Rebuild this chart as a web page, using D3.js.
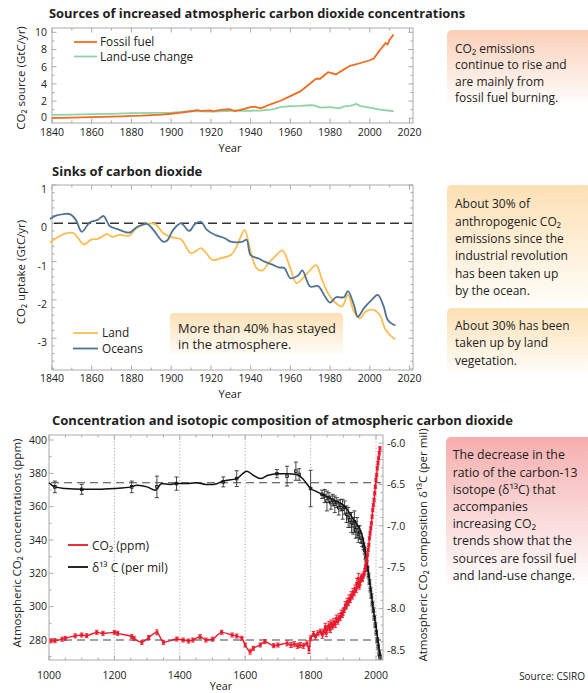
<!DOCTYPE html>
<html><head><meta charset="utf-8">
<script src="https://cdn.jsdelivr.net/npm/d3@7"></script>
<style>
body{margin:0;background:#fff}
svg{display:block}
text{font-family:'Open Sans',sans-serif;fill:#222}
</style>
</head><body>
<svg id="c" width="588" height="693"></svg>
<script>
// ---------- DATA ----------
// Panel 1: sources (GtC/yr)
const fossilYears = [1840,1845,1850,1855,1860,1865,1870,1875,1880,1885,1890,1895,1900,1905,1910,1913,1915,1920,1921,1925,1929,1930,1932,1935,1940,1942,1945,1946,1950,1955,1960,1965,1970,1973,1975,1979,1980,1983,1985,1990,1992,1995,2000,2002,2005,2008,2009,2010,2012];
const fossilVals  = [0.05,0.06,0.08,0.1,0.13,0.16,0.2,0.23,0.28,0.3,0.36,0.43,0.53,0.66,0.82,0.95,0.86,0.93,0.80,0.98,1.05,1.0,0.85,0.98,1.3,1.36,1.16,1.24,1.63,2.04,2.58,3.13,4.05,4.62,4.6,5.36,5.3,5.1,5.4,6.1,6.2,6.4,6.75,6.95,7.9,8.75,8.6,9.15,9.75];
const landUseYears = [1840,1850,1860,1870,1880,1890,1900,1905,1910,1915,1920,1925,1930,1935,1940,1945,1950,1952,1955,1960,1965,1970,1972,1975,1980,1985,1987,1990,1992,1993,1995,2000,2005,2010,2012];
const landUseVals  = [0.4,0.42,0.48,0.52,0.6,0.62,0.65,0.75,0.85,0.8,0.78,0.82,0.88,0.9,0.88,0.9,1.0,1.1,1.3,1.42,1.45,1.52,1.5,1.25,1.3,1.15,1.4,1.45,1.55,1.7,1.45,1.25,1.0,0.88,0.82];

// Panel 2: sinks (GtC/yr)
const oceanYears = [1839,1842,1846,1849,1852,1855,1859,1863,1866,1869,1873,1879,1883,1888,1891,1896,1898,1901,1905,1909,1912,1915,1918,1922,1927,1930,1933,1936,1938,1940,1944,1947,1951,1954,1957,1960,1964,1966,1970,1974,1977,1980,1983,1987,1989,1992,1994,1997,2001,2004,2007,2009,2012,2013];
const oceanVals  = [0.11,0.2,0.24,0.24,0.09,-0.22,0.02,0.09,0.19,-0.07,-0.15,-0.24,-0.09,-0.02,-0.17,-0.48,-0.45,-0.17,0,-0.2,-0.02,0.04,-0.17,-0.30,-0.39,-0.48,-0.5,-0.48,-0.43,-0.83,-0.92,-1.0,-1.08,-1.15,-1.17,-1.43,-1.36,-1.23,-1.65,-1.64,-1.87,-2.07,-1.93,-1.93,-1.77,-2.13,-2.44,-2.22,-2.0,-1.87,-2.17,-2.52,-2.65,-2.66];
const landYears = [1839,1842,1847,1851,1856,1860,1863,1868,1870,1874,1879,1882,1887,1892,1896,1900,1905,1910,1915,1917,1921,1925,1930,1933,1935,1937,1940,1943,1946,1949,1953,1956,1960,1963,1966,1970,1973,1976,1979,1982,1986,1989,1992,1995,1998,2002,2005,2008,2012,2013];
const landVals  = [-0.5,-0.39,-0.26,-0.26,-0.55,-0.42,-0.41,-0.28,-0.35,-0.3,-0.32,-0.15,-0.02,-0.02,-0.26,-0.36,-0.42,-0.78,-0.65,-0.74,-0.96,-0.91,-0.83,-0.6,-0.35,-0.17,-0.74,-1.17,-1.23,-1.04,-0.83,-0.71,-1.17,-1.56,-1.45,-1.22,-1.09,-1.48,-1.83,-2.04,-2.17,-1.87,-2.30,-2.48,-2.30,-2.26,-2.39,-2.78,-3.0,-3.02];

// Panel 3: CO2 concentration (ppm) and d13C (per mil)
const co2Years = [1006,1018,1040,1050,1080,1100,1115,1146,1165,1200,1210,1253,1260,1284,1305,1330,1350,1391,1410,1427,1440,1462,1480,1500,1528,1560,1574,1590,1600,1615,1625,1646,1660,1687,1700,1728,1740,1750,1760,1768,1778,1789,1795,1800,1809,1815,1822,1830,1836,1840,1845,1848,1852,1856,1860,1863,1867,1871,1875,1879,1883,1887,1890,1894,1897,1900,1903,1906,1909,1912,1915,1918,1921,1924,1927,1930,1933,1936,1939,1941,1944,1946,1949,1952,1955,1958,1960,1962,1964,1966,1968,1970,1972,1974,1976,1978,1980,1982,1984,1986,1988,1990,1992,1994,1996,1998,2000,2002,2004,2006,2008,2010,2012];
const co2Vals  = [279.5,279.6,280.5,281,282.5,283,282.6,284.6,284,284.6,284,282,281,278.6,281.5,284.6,278.6,280.6,280,279.4,280,282,280,280.5,284.6,283,282.4,281,277,273,275,277,279,276.6,277,278,277,277.5,276.5,277,276.5,278,274,281,283.6,282,284,285,283,285,288,284,287,289,286,290,288,291,289,293,291,294,293,296,295,297,298,301,300,303,302,305,304,307,306,309,308,311,310,314,313,317,312,315,318,316,318,319,320,322,324,326,328,331,334,337,341,344,347,350,354,358,361,364,368,372,376,379,383,386,389,392,395];
const co2Err   = [1.2,1.2,1.2,1.2,1.2,1.2,1.2,1.2,1.2,1.2,1.2,1.2,1.2,1.2,1.2,1.5,1.2,1.2,1.2,1.2,1.2,1.2,1.2,1.2,1.2,1.2,1.2,1.2,1.2,1.5,1.2,1.2,1.2,1.2,1.2,1.5,1.5,1.5,1.5,1.5,1.5,1.5,2,1.5,1.5,1.5,1.5,1.5,2,1.5,2,2,1.5,2,1.5,2,1.5,2,1.5,2,1.5,2,1.5,2,1.5,2,1.5,2,1.5,2,1.5,2,1.5,2,1.5,2,1.5,2,1.5,3,1.5,3,1.5,2,1.5,1,1,1,1,1,1,1,1,1,1,1,1,1,1,1,1,1,1,1,1,1,1,1,1,1,1,1,1];

const d13LineYears = [1000,1018,1050,1100,1150,1200,1250,1270,1300,1325,1345,1370,1391,1420,1450,1480,1503,1533,1574,1605,1625,1646,1670,1697,1730,1758,1778,1800,1820,1840,1870,1900,1915,1932,1952,1960,1967,1977,1985,1992,2000,2008,2013];
const d13LineVals  = [-6.48,-6.53,-6.55,-6.56,-6.56,-6.55,-6.53,-6.51,-6.53,-6.57,-6.49,-6.5,-6.49,-6.49,-6.48,-6.5,-6.5,-6.46,-6.43,-6.34,-6.39,-6.43,-6.39,-6.37,-6.37,-6.38,-6.44,-6.55,-6.59,-6.63,-6.69,-6.75,-6.82,-6.93,-7.05,-7.15,-7.29,-7.57,-7.8,-8.02,-8.22,-8.45,-8.58];
const d13PtYears = [1018,1100,1253,1330,1390,1533,1574,1697,1728,1755,1765,1800,1835,1843,1850,1856,1862,1868,1874,1880,1886,1892,1898,1904,1910,1915,1920,1925,1930,1934,1938,1942,1946,1950,1954,1958,1962,1965,1968,1971,1974,1977,1980,1983,1986,1989,1992,1995,1998,2001,2004,2007,2010,2012];
const d13PtVals  = [-6.53,-6.56,-6.53,-6.53,-6.49,-6.47,-6.43,-6.37,-6.40,-6.34,-6.38,-6.55,-6.62,-6.64,-6.70,-6.66,-6.72,-6.69,-6.74,-6.72,-6.78,-6.75,-6.80,-6.78,-6.86,-6.90,-6.93,-6.96,-7.00,-6.95,-7.05,-7.02,-7.10,-7.08,-7.15,-7.20,-7.25,-7.30,-7.38,-7.45,-7.52,-7.60,-7.68,-7.77,-7.85,-7.94,-8.02,-8.11,-8.20,-8.29,-8.38,-8.46,-8.54,-8.58];
const d13PtErr   = [0.07,0.06,0.07,0.13,0.08,0.06,0.095,0.05,0.12,0.11,0.07,0.22,0.05,0.08,0.12,0.06,0.08,0.07,0.1,0.06,0.09,0.07,0.12,0.08,0.1,0.12,0.09,0.12,0.1,0.13,0.1,0.12,0.1,0.08,0.06,0.05,0.04,0.04,0.03,0.03,0.03,0.03,0.03,0.03,0.03,0.03,0.03,0.03,0.03,0.03,0.03,0.03,0.03,0.03];

// tick values
const p1XTicks = [1840,1860,1880,1900,1920,1940,1960,1980,2000,2020];
const p1YTicks = [0,2,4,6,8,10];
const p2YTicks = [1,0,-1,-2,-3];
const p3XTicks = [1000,1200,1400,1600,1800,2000];
const p3YLTicks = [280,300,320,340,360,380,400];
const p3YRTicks = [-6.0,-6.5,-7.0,-7.5,-8.0,-8.5];

// ---------- DRAW ----------
const svg = d3.select('#c');
const defs = svg.append('defs');
function grad(id,c1,c2){
  const g=defs.append('linearGradient').attr('id',id).attr('x1',0).attr('y1',0).attr('x2',0).attr('y2',1);
  g.append('stop').attr('offset','0%').attr('stop-color',c1);
  g.append('stop').attr('offset','100%').attr('stop-color',c2);
}
grad('gSalmon','#fbcfb8','#ffffff');
grad('gOrange','#fde0b4','#fffdf8');
grad('gPink','#f6aeae','#ffffff');

const FR = '#aaaaaa';
function txt(x,y,s,size,anchor){
  return svg.append('text').attr('x',x).attr('y',y).attr('font-size',size).attr('text-anchor',anchor||'start').text(s);
}
function frame(g,l,r,t,b){
  g.append('rect').attr('x',l).attr('y',t).attr('width',r-l).attr('height',b-t)
   .attr('fill','none').attr('stroke',FR).attr('stroke-width',1);
}
function vticks(g, vals, scale, l, r, len, bothSides=true){
  vals.forEach(v=>{
    const y=scale(v);
    g.append('line').attr('x1',l).attr('x2',l+len).attr('y1',y).attr('y2',y).attr('stroke',FR);
    if(bothSides) g.append('line').attr('x1',r).attr('x2',r-len).attr('y1',y).attr('y2',y).attr('stroke',FR);
  });
}
function hticks(g, vals, scale, t, b, len){
  vals.forEach(v=>{
    const x=scale(v);
    g.append('line').attr('x1',x).attr('x2',x).attr('y1',b).attr('y2',b-len).attr('stroke',FR);
    g.append('line').attr('x1',x).attr('x2',x).attr('y1',t).attr('y2',t+len).attr('stroke',FR);
  });
}
function range(a,b,s){const o=[];for(let v=a;v<=b+1e-9;v+=s)o.push(+v.toFixed(4));return o;}

// ===== Panel 1 =====
{
  const L=52,R=413,T=28,B=123;
  const x=d3.scaleLinear().domain([1840,2020]).range([52,409.5]);
  const y=d3.scaleLinear().domain([0,10]).range([118.3,32.3]);
  const g=svg.append('g');
  txt(49,18,'Sources of increased atmospheric carbon dioxide concentrations',12.9).attr('font-weight',700);
  frame(g,L,R,T,B);
  hticks(g, range(1850,2010,10).filter(v=>v%20!==0), x, T, B, 2.5);
  hticks(g, p1XTicks, x, T, B, 4.5);
  vticks(g, range(1,9,2), y, L, R, 2.5);
  vticks(g, p1YTicks, y, L, R, 4.5);
  const line=d3.line().x(d=>x(d[0])).y(d=>y(d[1]));
  g.append('path').attr('d',line(landUseYears.map((v,i)=>[v,landUseVals[i]]))).attr('fill','none').attr('stroke','#8ed3a6').attr('stroke-width',1.8);
  g.append('path').attr('d',line(fossilYears.map((v,i)=>[v,fossilVals[i]]))).attr('fill','none').attr('stroke','#f26b21').attr('stroke-width',1.8);
  p1XTicks.forEach(v=>txt(x(v),135.5,v,10.5,'middle'));
  p1YTicks.forEach(v=>txt(47,y(v)+(v===0?2.8:3.8),v,10.5,'end'));
  txt(230,151.5,'Year',11,'middle');
  svg.append('text').attr('transform','translate(25,78) rotate(-90)').attr('text-anchor','middle').attr('font-size',11.5).text('CO₂ source (GtC/yr)');
  g.append('line').attr('x1',74).attr('x2',97).attr('y1',42).attr('y2',42).attr('stroke','#f26b21').attr('stroke-width',1.8);
  g.append('line').attr('x1',74).attr('x2',97).attr('y1',56.5).attr('y2',56.5).attr('stroke','#8ed3a6').attr('stroke-width',1.8);
  txt(100,46,'Fossil fuel',11.8);
  txt(100,60.8,'Land-use change',11.8);
}

// ===== Panel 2 =====
{
  const L=52,R=413,T=185,B=370;
  const x=d3.scaleLinear().domain([1840,2020]).range([52,409.5]);
  const y=d3.scaleLinear().domain([0,1]).range([223.3,185]);
  const g=svg.append('g');
  txt(52,176,'Sinks of carbon dioxide',13).attr('font-weight',700);
  frame(g,L,R,T,B);
  hticks(g, range(1850,2010,10).filter(v=>v%20!==0), x, T, B, 2.5);
  hticks(g, p1XTicks, x, T, B, 4.5);
  vticks(g, range(-3.8,1,0.2).filter(v=>Math.abs(v-Math.round(v))>0.01), y, L, R, 2.5);
  vticks(g, p2YTicks, y, L, R, 4.5);
  g.append('line').attr('x1',x(1840)+2).attr('x2',R-1).attr('y1',y(0)).attr('y2',y(0)).attr('stroke','#333').attr('stroke-width',1.6).attr('stroke-dasharray','9,5');
  const line=d3.line().curve(d3.curveCatmullRom.alpha(0.5)).x(d=>x(d[0])).y(d=>y(d[1]));
  g.append('path').attr('d',line(landYears.map((v,i)=>[v,landVals[i]]))).attr('fill','none').attr('stroke','#fcbd50').attr('stroke-width',1.8);
  g.append('path').attr('d',line(oceanYears.map((v,i)=>[v,oceanVals[i]]))).attr('fill','none').attr('stroke','#4f7393').attr('stroke-width',1.8);
  p1XTicks.forEach(v=>txt(x(v),382,v,10.5,'middle'));
  p2YTicks.forEach(v=>txt(47,y(v)+8,String(v),10.5,'end'));
  txt(230,398,'Year',11,'middle');
  svg.append('text').attr('transform','translate(25,272) rotate(-90)').attr('text-anchor','middle').attr('font-size',11.5).text('CO₂ uptake (GtC/yr)');
  g.append('line').attr('x1',73).attr('x2',98).attr('y1',333).attr('y2',333).attr('stroke','#fcbd50').attr('stroke-width',1.8);
  g.append('line').attr('x1',73).attr('x2',98).attr('y1',348.5).attr('y2',348.5).attr('stroke','#4f7393').attr('stroke-width',1.8);
  txt(102,337.3,'Land',11.8);
  txt(102,353,'Oceans',11.8);
  svg.append('rect').attr('x',170).attr('y',313).attr('width',173).attr('height',41).attr('rx',4).attr('fill','url(#gOrange)');
  txt(178,332.5,'More than 40% has stayed',12.8);
  txt(178,348.8,'in the atmosphere.',12.8);
}

// ===== Panel 3 =====
{
  const L=49,R=383,T=435,B=660;
  const x=d3.scaleLinear().domain([1000,2000]).range([49,376]);
  const yL=d3.scaleLinear().domain([280,400]).range([640,440]);
  const yR=d3.scaleLinear().domain([-6,-8.5]).range([443,650]);
  const g=svg.append('g');
  txt(52,425,'Concentration and isotopic composition of atmospheric carbon dioxide',13).attr('font-weight',700);
  [1200,1400,1600,1800,2000].forEach(v=>g.append('line').attr('x1',x(v)).attr('x2',x(v)).attr('y1',T).attr('y2',B).attr('stroke','#999').attr('stroke-width',0.8).attr('stroke-dasharray','1.2,2'));
  frame(g,L,R,T,B);
  hticks(g, range(1050,1950,50).filter(v=>v%200!==0), x, T, B, 2.5);
  hticks(g, p3XTicks, x, T, B, 4.5);
  vticks(g, range(270,400,10).filter(v=>v%20!==0), yL, L, R, 2.5, false);
  vticks(g, p3YLTicks, yL, L, R, 4.5, false);
  range(-8.6,-6,0.1).filter(v=>Math.abs(v*2-Math.round(v*2))>0.01).forEach(v=>g.append('line').attr('x1',R).attr('x2',R-2.5).attr('y1',yR(v)).attr('y2',yR(v)).attr('stroke',FR));
  p3YRTicks.forEach(v=>g.append('line').attr('x1',R).attr('x2',R-4.5).attr('y1',yR(v)).attr('y2',yR(v)).attr('stroke',FR));
  g.append('line').attr('x1',L+2).attr('x2',R-2).attr('y1',yL(280)).attr('y2',yL(280)).attr('stroke','#444').attr('stroke-width',1.1).attr('stroke-dasharray','8,5');
  g.append('line').attr('x1',L+2).attr('x2',R-2).attr('y1',yR(-6.48)).attr('y2',yR(-6.48)).attr('stroke','#444').attr('stroke-width',1.1).attr('stroke-dasharray','8,5');
  const blk='#111', red='#e8192c';
  d13PtYears.forEach((yr,i)=>{
    const cx=x(yr), y1=yR(d13PtVals[i]-d13PtErr[i]), y2=yR(d13PtVals[i]+d13PtErr[i]);
    g.append('line').attr('x1',cx).attr('x2',cx).attr('y1',y1).attr('y2',y2).attr('stroke','#333').attr('stroke-width',0.9);
    g.append('line').attr('x1',cx-2).attr('x2',cx+2).attr('y1',y1).attr('y2',y1).attr('stroke','#333').attr('stroke-width',0.9);
    g.append('line').attr('x1',cx-2).attr('x2',cx+2).attr('y1',y2).attr('y2',y2).attr('stroke','#333').attr('stroke-width',0.9);
    g.append('rect').attr('x',cx-1.3).attr('y',yR(d13PtVals[i])-1.3).attr('width',2.6).attr('height',2.6).attr('fill','none').attr('stroke',blk).attr('stroke-width',0.8);
  });
  const lineR=d3.line().curve(d3.curveMonotoneX).x(d=>x(d[0])).y(d=>yR(d[1]));
  g.append('path').attr('d',lineR(d13LineYears.map((v,i)=>[v,d13LineVals[i]]))).attr('fill','none').attr('stroke',blk).attr('stroke-width',1.5);
  co2Years.forEach((yr,i)=>{
    const cx=x(yr), y1=yL(co2Vals[i]-co2Err[i]), y2=yL(co2Vals[i]+co2Err[i]);
    g.append('line').attr('x1',cx).attr('x2',cx).attr('y1',y1).attr('y2',y2).attr('stroke',red).attr('stroke-width',0.9);
    g.append('line').attr('x1',cx-1.8).attr('x2',cx+1.8).attr('y1',y1).attr('y2',y1).attr('stroke',red).attr('stroke-width',0.9);
    g.append('line').attr('x1',cx-1.8).attr('x2',cx+1.8).attr('y1',y2).attr('y2',y2).attr('stroke',red).attr('stroke-width',0.9);
    g.append('rect').attr('x',cx-1.4).attr('y',yL(co2Vals[i])-1.4).attr('width',2.8).attr('height',2.8).attr('fill',red);
  });
  const lineL=d3.line().curve(d3.curveMonotoneX).x(d=>x(d[0])).y(d=>yL(d[1]));
  g.append('path').attr('d',lineL(co2Years.map((v,i)=>[v,co2Vals[i]]))).attr('fill','none').attr('stroke',red).attr('stroke-width',1.4);
  p3XTicks.forEach(v=>txt(x(v),679,v,10.5,'middle'));
  p3YLTicks.forEach(v=>txt(47,yL(v)+3.8,v,10.5,'end'));
  p3YRTicks.forEach(v=>txt(387,yR(v)+3.8,v.toFixed(1),10.5));
  txt(221,689.5,'Year',10.8,'middle');
  svg.append('text').attr('transform','translate(21,543) rotate(-90)').attr('text-anchor','middle').attr('font-size',11.5).text('Atmospheric CO₂ concentrations (ppm)');
  svg.append('text').attr('transform','translate(427,545) rotate(-90)').attr('text-anchor','middle').attr('font-size',11.5).text('Atmospheric CO₂ composition δ¹³C (per mil)');
  g.append('line').attr('x1',68).attr('x2',88).attr('y1',545).attr('y2',545).attr('stroke',red).attr('stroke-width',1.8);
  g.append('line').attr('x1',68).attr('x2',88).attr('y1',567).attr('y2',567).attr('stroke',blk).attr('stroke-width',1.8);
  txt(92,549.5,'CO₂ (ppm)',12);
  txt(92,571.5,'δ¹³ C (per mil)',12);
}

// ===== Right side boxes =====
function box(x,y,w,h,fill,lines,tx,ty0,dy,size){
  svg.append('rect').attr('x',x).attr('y',y).attr('width',w+10).attr('height',h).attr('rx',5).attr('fill',fill);
  lines.forEach((s,i)=>txt(tx,ty0+i*dy,s,size));
}
box(447,30,141,77,'url(#gSalmon)',[
  'CO₂ emissions','continue to rise and','are mainly from','fossil fuel burning.'
],455,53,16.4,12);
box(447,185,141,118,'url(#gOrange)',[
  'About 30% of','anthropogenic CO₂','emissions since the','industrial revolution','has been taken up','by the ocean.'
],455,208.3,17.3,12);
box(447,308,141,64,'url(#gOrange)',[
  'About 30% has been','taken up by land','vegetation.'
],455,330,17.3,12);
box(446,437,142,150,'url(#gPink)',[
  'The decrease in the','ratio of the carbon-13','isotope (δ¹³C) that','accompanies','increasing CO₂','trends show that the','sources are fossil fuel','and land-use change.'
],452.7,459.3,17.2,12.3);
txt(585,680,'Source: CSIRO',10,'end');
</script>
</body></html>
